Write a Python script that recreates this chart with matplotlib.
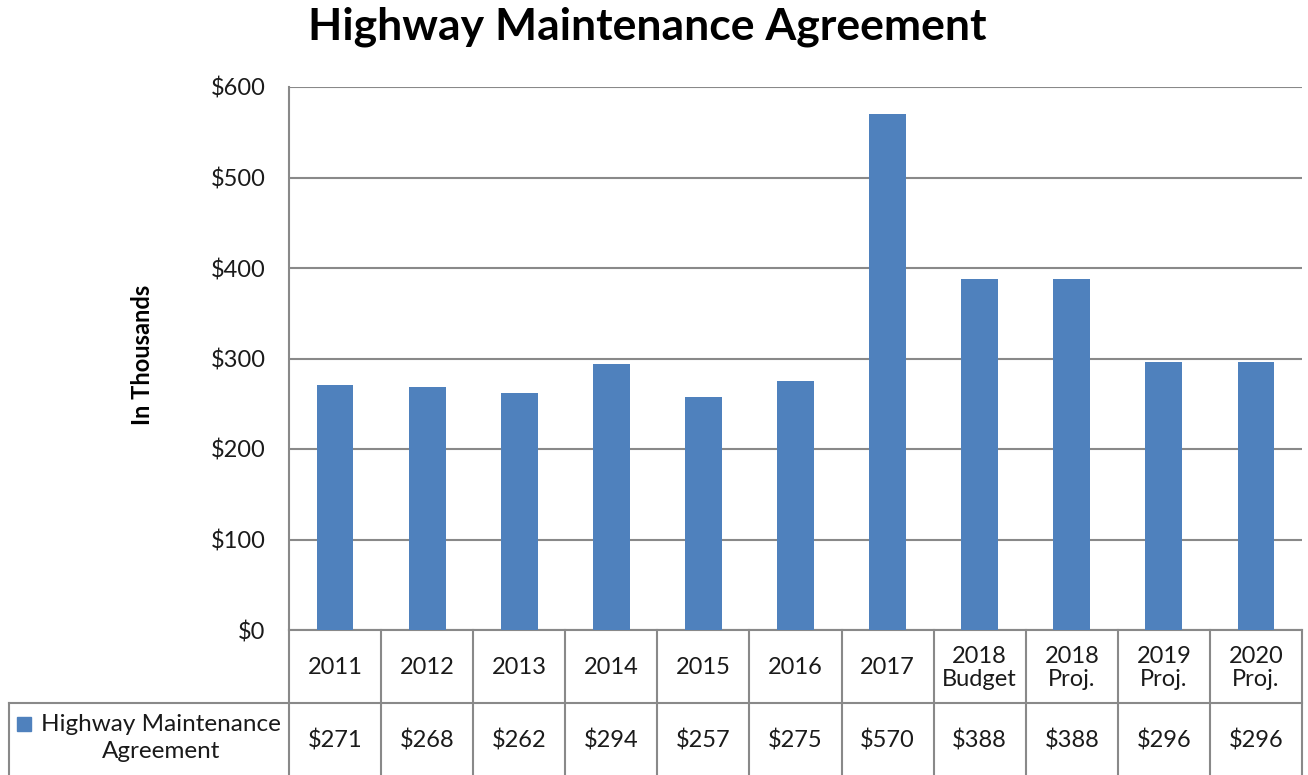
import numpy as np
import matplotlib
matplotlib.use("Agg")
import matplotlib.pyplot as plt
import matplotlib.transforms as mtransforms
from matplotlib.patches import Rectangle

categories = ["2011", "2012", "2013", "2014", "2015", "2016", "2017",
              "2018\nBudget", "2018\nProj.", "2019\nProj.", "2020\nProj."]
values = [271, 268, 262, 294, 257, 275, 570, 388, 388, 296, 296]
series_name = "Highway Maintenance\nAgreement"
yticks = [0, 100, 200, 300, 400, 500, 600]

bar_color = "#4F81BD"
line_color = "#898989"

plt.rcParams['font.family'] = ['Lato', 'DejaVu Sans']

fig = plt.figure(figsize=(13.08, 7.75), dpi=100)
W, H = 1308, 775
left, right, top, bottom = 289, 1302, 87, 630
ax = fig.add_axes([left / W, 1 - bottom / H, (right - left) / W, (bottom - top) / H])

x = np.arange(len(categories))
ax.bar(x, values, width=0.4, color=bar_color, zorder=3)
ax.set_xlim(-0.5, len(categories) - 0.5)
ax.set_ylim(0, 600)
ax.set_yticks(yticks)
ax.set_yticklabels([f"${v}" for v in yticks], fontsize=17, color="#1a1a1a")
ax.tick_params(axis='y', length=0, pad=17)
ax.set_xticks([])
ax.grid(axis='y', color=line_color, linewidth=1.5, zorder=0)
for s in ['top', 'right', 'bottom']:
    ax.spines[s].set_visible(False)
ax.spines['left'].set_color(line_color)
ax.spines['left'].set_linewidth(1.5)

fig.text(143 / W, 1 - 355 / H, "In Thousands", rotation=90, ha='center', va='center',
         fontsize=17, fontweight='bold')
fig.text(647 / W, 1 - 27 / H, "Highway Maintenance Agreement", ha='center', va='center',
         fontsize=32, fontweight='bold')

# data table under the plot
ph = bottom - top
row1 = -73 / ph
row2 = -160 / ph
leg_left = (9 - left) / (right - left)
trans = mtransforms.blended_transform_factory(ax.transData, ax.transAxes)
for i in range(len(categories) + 1):
    ax.plot([i - 0.5, i - 0.5], [0, row2], transform=trans, color=line_color,
            linewidth=1.5, clip_on=False)
ax.plot([-0.5, len(categories) - 0.5], [0, 0], transform=trans, color=line_color,
        linewidth=1.5, clip_on=False)
ax.plot([leg_left, 1], [row1, row1], transform=ax.transAxes, color=line_color,
        linewidth=1.5, clip_on=False)
ax.plot([leg_left, leg_left], [row1, row2], transform=ax.transAxes, color=line_color,
        linewidth=1.5, clip_on=False)

for i, (c, v) in enumerate(zip(categories, values)):
    ax.text(i, -38 / ph, c, transform=trans, ha='center', va='center',
            fontsize=17, color="#1a1a1a", linespacing=1.15)
    ax.text(i, -110 / ph, f"${v}", transform=trans, ha='center', va='center',
            fontsize=17, color="#1a1a1a")

# legend key in the table
fig.patches.append(Rectangle((17 / W, 1 - 731 / H), 14 / W, 14 / H,
                             transform=fig.transFigure, color=bar_color))
fig.text(161 / W, 1 - 738 / H, series_name, ha='center', va='center',
         fontsize=17.5, color="#1a1a1a", linespacing=1.3)

fig.savefig("out.png", dpi=100)
